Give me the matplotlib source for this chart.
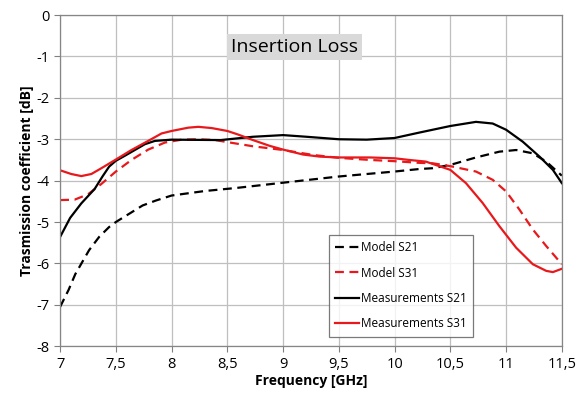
import matplotlib
matplotlib.use("Agg")
import matplotlib.pyplot as plt

plt.rcParams['font.family'] = ['Open Sans', 'DejaVu Sans']
plt.rcParams['axes.unicode_minus'] = False

# Data
freq_ms21 = [7.0, 7.076, 7.136, 7.2, 7.26, 7.35, 7.44, 7.5, 7.62, 7.74, 7.86, 8.0, 8.3, 8.57,
             9.0, 9.5, 10.0, 10.22, 10.34, 10.5, 10.73, 10.94, 11.09, 11.24, 11.36, 11.5]
model_s21 = [-7.05, -6.64, -6.26, -5.96, -5.68, -5.36, -5.12, -5.0, -4.8, -4.6, -4.48, -4.36, -4.25, -4.18,
             -4.05, -3.9, -3.78, -3.72, -3.7, -3.62, -3.44, -3.3, -3.26, -3.34, -3.54, -3.88]

freq_ms31 = [7.0, 7.13, 7.25, 7.37, 7.5, 7.64, 7.79, 7.94, 8.09, 8.24, 8.39, 8.57, 8.73, 9.0,
             9.27, 9.5, 9.78, 10.0, 10.22, 10.34, 10.5, 10.73, 10.88, 11.0, 11.12, 11.24, 11.36, 11.5]
model_s31 = [-4.47, -4.46, -4.33, -4.08, -3.78, -3.5, -3.25, -3.08, -3.01, -3.0, -3.02, -3.1, -3.17, -3.26,
             -3.38, -3.45, -3.5, -3.53, -3.57, -3.58, -3.65, -3.78, -3.98, -4.26, -4.7, -5.18, -5.58, -6.02]

freq_mm21 = [7.0, 7.09, 7.19, 7.31, 7.38, 7.44, 7.5, 7.58, 7.67, 7.76, 7.85, 8.0, 8.44, 8.73,
             9.0, 9.21, 9.5, 9.75, 10.0, 10.22, 10.5, 10.73, 10.88, 11.0, 11.15, 11.3, 11.42, 11.5]
meas_s21 = [-5.36, -4.9, -4.55, -4.2, -3.9, -3.66, -3.52, -3.4, -3.26, -3.12, -3.04, -3.01, -3.02, -2.94,
            -2.9, -2.94, -3.0, -3.01, -2.97, -2.84, -2.68, -2.58, -2.62, -2.77, -3.06, -3.42, -3.74, -4.06]

freq_mm31 = [7.0, 7.1, 7.19, 7.28, 7.37, 7.5, 7.64, 7.79, 7.91, 8.0, 8.15, 8.24, 8.36, 8.5, 8.59,
             8.73, 8.88, 9.0, 9.18, 9.33, 9.5, 9.78, 10.0, 10.13, 10.28, 10.5, 10.64, 10.79, 10.94,
             11.09, 11.24, 11.36, 11.42, 11.5]
meas_s31 = [-3.75, -3.84, -3.89, -3.84, -3.7, -3.49, -3.26, -3.04, -2.86, -2.8, -2.72, -2.7, -2.73, -2.8, -2.88,
            -3.02, -3.16, -3.25, -3.37, -3.42, -3.44, -3.44, -3.46, -3.5, -3.54, -3.74, -4.06, -4.54, -5.1,
            -5.62, -6.02, -6.18, -6.21, -6.13]

x_ticks = [7, 7.5, 8, 8.5, 9, 9.5, 10, 10.5, 11, 11.5]
x_labels = ['7', '7,5', '8', '8,5', '9', '9,5', '10', '10,5', '11', '11,5']
y_ticks = [0, -1, -2, -3, -4, -5, -6, -7, -8]

fig = plt.figure(figsize=(5.78, 3.97), dpi=100)
ax = fig.add_axes([0.104, 0.128, 0.868, 0.834])

ax.plot(freq_ms21, model_s21, color='black', ls=(0, (4, 2.5)), lw=1.6, label='Model S21')
ax.plot(freq_ms31, model_s31, color='#e8191c', ls=(0, (4, 2.5)), lw=1.6, label='Model S31')
ax.plot(freq_mm21, meas_s21, color='black', lw=1.6, label='Measurements S21')
ax.plot(freq_mm31, meas_s31, color='#e8191c', lw=1.6, label='Measurements S31')

ax.set_xlim(7, 11.5)
ax.set_ylim(-8, 0)
ax.set_xticks(x_ticks)
ax.set_xticklabels(x_labels)
ax.set_yticks(y_ticks)
ax.tick_params(axis='both', labelsize=10.5, length=4, color='#808080', width=0.8)
ax.grid(True, color='#bfbfbf', lw=0.9)
ax.set_axisbelow(True)
for s in ax.spines.values():
    s.set_color('#868686')
    s.set_linewidth(0.9)

ax.set_xlabel('Frequency [GHz]', fontsize=10, fontweight='bold', labelpad=2)
ax.set_ylabel('Trasmission coefficient [dB]', fontsize=10, fontweight='bold', labelpad=2)

ax.text(9.1, -0.77, 'Insertion Loss', fontsize=14, ha='center', va='center',
        bbox=dict(facecolor='#d9d9d9', edgecolor='none', pad=3))

leg = ax.legend(loc='lower left', bbox_to_anchor=(0.535, 0.028), fontsize=8.5,
                frameon=True, fancybox=False, handlelength=2.0, handletextpad=0.2,
                borderpad=0.55, labelspacing=1.05, borderaxespad=0)
leg.get_frame().set_edgecolor('#595959')
leg.get_frame().set_linewidth(0.9)

fig.savefig('out.png', dpi=100)
